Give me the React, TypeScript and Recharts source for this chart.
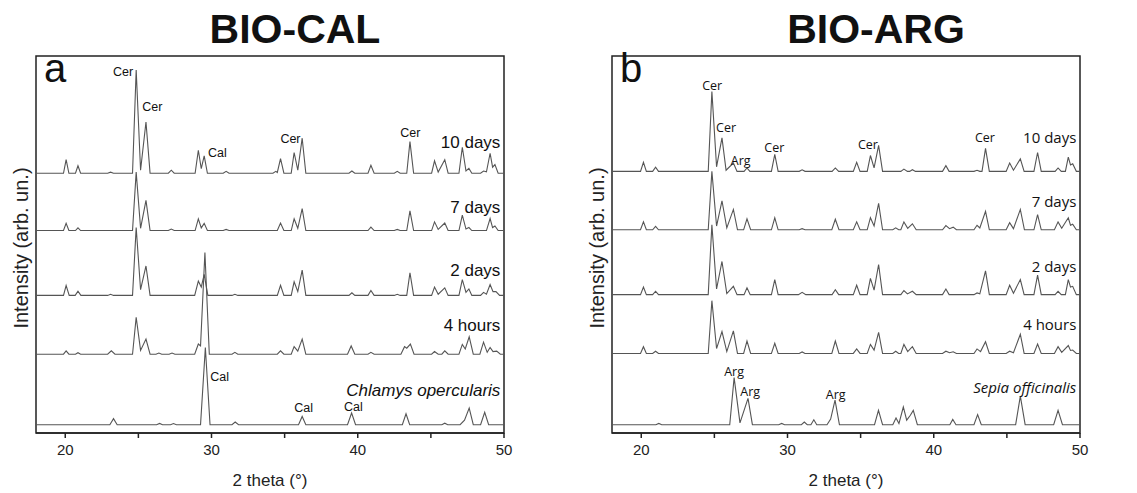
import React from 'react';
import { LineChart, Line, XAxis, YAxis, ReferenceArea, ReferenceDot } from 'recharts';

// 2 theta (deg) vs intensity. Intensity unit: 1/100 of the plot height.
// Each trace is a list of [2theta, intensity above its own baseline].
const calNames = ['10 days', '7 days', '2 days', '4 hours', 'Chlamys opercularis'];
const calOffsets = [68.9, 53.7, 36.5, 20.9, 2.2];

const cal10d = [
  [18, 0], [19.88, 0], [20.06, 3.6], [20.25, 0], [20.7, 0], [20.87, 2.0], [21.05, 0],
  [22.9, 0], [23.1, 0.3], [23.3, 0],
  [24.6, 0], [24.85, 27.4], [25.15, 0.8], [25.52, 13.6], [25.8, 0],
  [27.05, 0], [27.25, 0.8], [27.45, 0],
  [28.88, 0], [29.1, 6.1], [29.3, 1.2], [29.5, 4.6], [29.72, 0],
  [30.8, 0], [31.0, 0.5], [31.2, 0],
  [34.2, 0], [34.4, 0.5], [34.5, 0.2], [34.72, 3.9], [34.95, 0],
  [35.45, 0], [35.65, 5.5], [35.9, 0.8], [36.2, 9.3], [36.45, 0],
  [39.4, 0], [39.6, 0.6], [39.8, 0],
  [40.7, 0], [40.9, 2.1], [41.12, 0],
  [42.5, 0], [42.7, 0.5], [42.9, 0], [43.35, 0], [43.57, 8.4], [43.82, 0],
  [45.05, 0], [45.25, 3.3], [45.5, 0.3], [45.95, 3.6], [46.18, 0],
  [46.92, 0], [47.15, 6.9], [47.4, 0.6], [47.6, 1.3], [47.8, 0],
  [48.4, 0], [48.6, 0.6], [48.8, 0.4], [49.05, 5.3], [49.22, 1.6], [49.38, 2.3], [49.6, 0],
  [50, 0],
];
const cal7d = [
  [18, 0], [19.88, 0], [20.06, 1.9], [20.25, 0], [20.7, 0], [20.87, 0.7], [21.05, 0],
  [24.6, 0], [24.85, 15.5], [25.15, 0.6], [25.52, 8.0], [25.8, 0],
  [27.05, 0], [27.25, 0.4], [27.45, 0],
  [28.88, 0], [29.1, 3.1], [29.3, 0.7], [29.5, 1.9], [29.72, 0],
  [30.8, 0], [31.0, 0.3], [31.2, 0],
  [34.5, 0], [34.72, 2.0], [34.95, 0],
  [35.45, 0], [35.65, 3.1], [35.9, 0.6], [36.2, 5.8], [36.45, 0],
  [40.7, 0], [40.9, 0.9], [41.12, 0],
  [42.5, 0], [42.7, 0.3], [42.9, 0], [43.35, 0], [43.57, 5.2], [43.82, 0],
  [45.05, 0], [45.25, 2.3], [45.5, 0.3], [45.95, 2.0], [46.18, 0],
  [46.92, 0], [47.15, 4.1], [47.4, 0.4], [47.6, 0.8], [47.8, 0],
  [48.8, 0], [49.05, 3.2], [49.22, 0.8], [49.38, 1.2], [49.6, 0],
  [50, 0],
];
const cal2d = [
  [18, 0], [19.88, 0], [20.06, 2.6], [20.27, 0], [20.68, 0], [20.87, 1.1], [21.07, 0],
  [22.9, 0], [23.1, 0.3], [23.3, 0],
  [24.6, 0], [24.85, 18], [25.15, 1.5], [25.52, 7.8], [25.8, 0],
  [28.85, 0], [29.1, 3.8], [29.3, 2.2], [29.5, 5.6], [29.75, 0],
  [31.4, 0], [31.6, 0.3], [31.8, 0],
  [34.5, 0], [34.72, 2.7], [34.95, 0],
  [35.45, 0], [35.65, 3.6], [35.9, 1.0], [36.2, 6.7], [36.45, 0],
  [39.4, 0], [39.6, 0.7], [39.8, 0],
  [40.7, 0], [40.9, 1.3], [41.12, 0],
  [42.5, 0], [42.7, 0.3], [42.9, 0], [43.35, 0], [43.57, 6.0], [43.82, 0],
  [45.05, 0], [45.25, 2.2], [45.5, 0.3], [45.95, 2.0], [46.18, 0],
  [46.92, 0], [47.15, 4.2], [47.4, 0.8], [47.6, 1.7], [47.8, 0],
  [48.4, 0], [48.6, 0.8], [48.8, 0.3], [49.05, 2.9], [49.25, 1.0], [49.45, 1.0], [49.7, 0],
  [50, 0],
];
const cal4h = [
  [18, 0], [19.88, 0], [20.06, 0.9], [20.25, 0], [20.7, 0], [20.87, 0.4], [21.05, 0],
  [22.9, 0], [23.15, 0.9], [23.4, 0],
  [24.6, 0], [24.85, 9.8], [25.15, 1.0], [25.52, 4.0], [25.8, 0],
  [26.2, 0], [26.4, 0.3], [26.6, 0],
  [27.1, 0], [27.3, 0.3], [27.5, 0],
  [28.85, 0], [29.1, 2.7], [29.25, 2.2], [29.55, 27], [29.85, 0],
  [31.4, 0], [31.6, 0.5], [31.8, 0],
  [34.5, 0], [34.72, 0.9], [34.95, 0],
  [35.45, 0], [35.65, 2.0], [35.9, 0.8], [36.2, 4.0], [36.45, 0],
  [39.3, 0], [39.55, 2.2], [39.8, 0],
  [40.7, 0], [40.9, 0.5], [41.12, 0],
  [42.95, 0], [43.2, 2.0], [43.35, 1.6], [43.6, 2.7], [43.85, 0],
  [45.05, 0], [45.25, 0.7], [45.5, 0], [45.75, 0], [45.95, 0.9], [46.18, 0],
  [46.92, 0], [47.15, 2.6], [47.35, 1.4], [47.62, 4.6], [47.9, 0],
  [48.35, 0], [48.6, 3.2], [48.85, 0.5], [49.05, 1.8], [49.25, 0.7], [49.5, 0.8], [49.75, 0],
  [50, 0],
];
const chlamys = [
  [18, 0], [23.05, 0], [23.3, 1.6], [23.55, 0],
  [26.25, 0], [26.45, 0.35], [26.65, 0],
  [27.2, 0], [27.4, 0.3], [27.6, 0],
  [29.25, 0], [29.58, 20.5], [29.9, 0],
  [31.4, 0], [31.62, 0.7], [31.85, 0],
  [35.95, 0], [36.2, 2.2], [36.45, 0],
  [39.3, 0], [39.58, 3.1], [39.85, 0],
  [43.05, 0], [43.3, 2.9], [43.55, 0],
  [45.75, 0], [45.95, 0.4], [46.15, 0],
  [47.0, 0], [47.3, 1.2], [47.62, 4.4], [47.9, 0],
  [48.4, 0], [48.68, 3.3], [48.95, 0],
  [50, 0],
];

const argNames = ['10 days', '7 days', '2 days', '4 hours', 'Sepia officinalis'];
const argOffsets = [69.4, 53.9, 36.7, 21.1, 2.2];

const arg10d = [
  [18, 0], [19.95, 0], [20.15, 2.4], [20.35, 0], [20.78, 0], [20.98, 1.1], [21.18, 0],
  [24.58, 0], [24.83, 21.2], [25.15, 1.2], [25.52, 8.9], [25.8, 0.3], [26.3, 2.2], [26.55, 0],
  [27.03, 0], [27.23, 0.9], [27.43, 0],
  [28.9, 0], [29.13, 4.5], [29.36, 0],
  [30.8, 0], [31.0, 0.4], [31.2, 0],
  [33.05, 0], [33.27, 0.9], [33.5, 0],
  [34.5, 0], [34.73, 2.4], [34.96, 0],
  [35.45, 0], [35.67, 4.2], [35.92, 0.9], [36.23, 6.9], [36.5, 0],
  [37.75, 0], [37.96, 0.6], [38.2, 0], [38.35, 0], [38.54, 0.45], [38.75, 0],
  [40.6, 0], [40.83, 1.5], [41.05, 0],
  [42.75, 0], [42.96, 0.3], [43.15, 0], [43.3, 0], [43.54, 6.1], [43.8, 0],
  [44.95, 0], [45.19, 2.2], [45.45, 0.3], [45.92, 3.3], [46.18, 0],
  [46.85, 0], [47.1, 5.0], [47.35, 0],
  [48.3, 0], [48.5, 0.9], [48.72, 0],
  [49.0, 0], [49.2, 3.8], [49.35, 1.7], [49.5, 2.0], [49.75, 0],
  [50, 0],
];
const arg7d = [
  [18, 0], [19.95, 0], [20.15, 2.1], [20.35, 0], [20.78, 0], [20.98, 0.9], [21.18, 0],
  [24.58, 0], [24.83, 15.5], [25.15, 1.0], [25.52, 7.7], [25.85, 0.5], [26.3, 5.4], [26.58, 0],
  [27.0, 0], [27.23, 2.9], [27.48, 0],
  [28.9, 0], [29.13, 3.2], [29.36, 0],
  [30.8, 0], [31.0, 0.3], [31.2, 0],
  [33.03, 0], [33.27, 2.8], [33.52, 0],
  [34.5, 0], [34.73, 2.1], [34.96, 0],
  [35.45, 0], [35.67, 3.2], [35.92, 1.0], [36.23, 7.0], [36.5, 0],
  [37.2, 0], [37.4, 0.5], [37.6, 0], [37.75, 0], [37.96, 2.1], [38.22, 0.4], [38.54, 1.6], [38.8, 0],
  [40.6, 0], [40.83, 1.1], [41.08, 0.3], [41.33, 0.7], [41.55, 0],
  [42.75, 0], [42.96, 1.2], [43.15, 0.5], [43.54, 4.9], [43.8, 0],
  [44.95, 0], [45.19, 1.9], [45.45, 0.3], [45.92, 5.4], [46.2, 0],
  [46.85, 0], [47.1, 4.0], [47.35, 0],
  [48.25, 0], [48.5, 2.1], [48.75, 0.4], [49.2, 3.2], [49.35, 1.2], [49.5, 1.5], [49.75, 0],
  [50, 0],
];
const arg2d = [
  [18, 0], [19.95, 0], [20.15, 2.0], [20.35, 0], [20.78, 0], [20.98, 0.9], [21.18, 0],
  [24.58, 0], [24.83, 18.5], [25.15, 1.5], [25.52, 8.8], [25.85, 0.3], [26.3, 2.2], [26.55, 0],
  [27.03, 0], [27.23, 1.8], [27.45, 0],
  [28.9, 0], [29.13, 4.0], [29.36, 0],
  [30.75, 0], [31.0, 0.6], [31.25, 0],
  [33.05, 0], [33.27, 1.3], [33.5, 0],
  [34.5, 0], [34.73, 2.5], [34.96, 0],
  [35.45, 0], [35.67, 4.3], [35.92, 1.2], [36.23, 8.0], [36.5, 0],
  [37.75, 0], [37.96, 1.1], [38.2, 0.2], [38.54, 0.9], [38.8, 0],
  [40.6, 0], [40.83, 1.5], [41.05, 0],
  [42.75, 0], [42.96, 0.45], [43.15, 0.2], [43.54, 6.3], [43.8, 0],
  [44.95, 0], [45.19, 2.5], [45.45, 0.4], [45.92, 4.0], [46.18, 0],
  [46.85, 0], [47.1, 5.2], [47.35, 0],
  [48.3, 0], [48.5, 0.9], [48.72, 0],
  [49.0, 0], [49.2, 4.0], [49.35, 2.0], [49.5, 2.2], [49.75, 0],
  [50, 0],
];
const arg4h = [
  [18, 0], [19.95, 0], [20.15, 1.8], [20.35, 0], [20.78, 0], [20.98, 0.6], [21.18, 0],
  [24.58, 0], [24.83, 14.0], [25.15, 1.3], [25.52, 5.8], [25.85, 0.5], [26.3, 6.0], [26.58, 0],
  [27.0, 0], [27.23, 3.3], [27.48, 0],
  [28.9, 0], [29.13, 2.7], [29.36, 0],
  [30.8, 0], [31.0, 0.4], [31.2, 0],
  [33.03, 0], [33.27, 3.3], [33.52, 0],
  [34.5, 0], [34.73, 1.2], [34.96, 0],
  [35.45, 0], [35.67, 2.4], [35.92, 0.9], [36.23, 5.6], [36.5, 0],
  [37.2, 0], [37.4, 0.6], [37.6, 0], [37.75, 0], [37.96, 2.4], [38.22, 0.5], [38.54, 1.8], [38.8, 0],
  [40.6, 0], [40.83, 0.6], [41.08, 0.2], [41.33, 0.45], [41.55, 0],
  [42.75, 0], [42.96, 1.2], [43.2, 0.5], [43.54, 3.1], [43.8, 0],
  [44.95, 0], [45.19, 0.6], [45.45, 0.2], [45.92, 5.1], [46.18, 0],
  [46.85, 0], [47.1, 2.5], [47.35, 0],
  [48.25, 0], [48.5, 1.8], [48.75, 0.3], [49.2, 2.1], [49.35, 0.8], [49.5, 0.9], [49.75, 0],
  [50, 0],
];
const sepia = [
  [18, 0], [21.0, 0], [21.2, 0.35], [21.4, 0],
  [26.05, 0], [26.35, 12.5], [26.75, 0.5], [27.3, 7.0], [27.6, 0],
  [29.4, 0], [29.6, 0.35], [29.8, 0],
  [30.95, 0], [31.15, 0.7], [31.35, 0], [31.6, 0], [31.8, 1.3], [32.0, 0],
  [32.7, 0], [32.95, 1.5], [33.25, 6.5], [33.55, 0],
  [35.95, 0], [36.22, 3.8], [36.5, 0],
  [37.2, 0], [37.42, 1.8], [37.62, 0.3], [37.92, 4.7], [38.15, 1.2], [38.4, 2.5], [38.6, 3.8], [38.88, 0],
  [41.1, 0], [41.3, 1.4], [41.52, 0],
  [42.75, 0], [43.0, 2.7], [43.25, 0],
  [45.6, 0], [45.92, 7.6], [46.25, 0],
  [48.2, 0], [48.5, 3.8], [48.8, 0],
  [50, 0],
];

const xTicks = [20, 25, 30, 35, 40, 45, 50];

// phase labels [2theta, y, text]
const calPhaseLabels = [
  [23.95, 95.8, 'Cer'], [25.95, 86.5, 'Cer'], [30.4, 74.2, 'Cal'],
  [35.4, 78, 'Cer'], [43.6, 79.6, 'Cer'],
  [30.55, 14.9, 'Cal'], [36.3, 6.6, 'Cal'], [39.7, 7.0, 'Cal'],
];
const calNameY = [77.1, 59.7, 43.2, 28.6, 11.4];
const argPhaseLabels = [
  [24.85, 92.2, 'Cer'], [25.8, 81, 'Cer'], [26.8, 72.4, 'Arg'], [29.1, 75.7, 'Cer'],
  [35.5, 76.6, 'Cer'], [43.5, 78.4, 'Cer'],
  [26.35, 16.3, 'Arg'], [27.45, 11.1, 'Arg'], [33.3, 10.1, 'Arg'],
];
const argNameY = [78.6, 61.6, 44.4, 29.0, 12.3];

const AXIS = '#222';
const TRACE = '#555';

function TextAt({ viewBox, text, anchor, size, family, italic }: any) {
  return (
    <text x={viewBox.x} y={viewBox.y} textAnchor={anchor} dominantBaseline="central"
      fontSize={size} fontFamily={family} fontStyle={italic ? 'italic' : 'normal'} fill="#111">
      {text}
    </text>
  );
}

function Panel({ left, traces, offsets, names, nameY, phaseLabels, title, titleX, letter, labelFont, nameSize }: any) {
  return (
    <div style={{ position: 'absolute', left, top: 0, width: 560, height: 493 }}>
      <LineChart width={560} height={493} margin={{ top: 56, right: 56, bottom: 30, left: 36 }}>
        <XAxis dataKey="x" type="number" domain={[18, 50]} ticks={xTicks} allowDataOverflow
          tickFormatter={(v: number) => (v % 10 === 0 ? String(v) : '')}
          tick={{ fill: '#222', fontSize: 15, fontFamily: 'Liberation Sans, Arial' }}
          tickSize={5} tickMargin={6} height={30} stroke={AXIS} strokeWidth={1.5} />
        <YAxis type="number" domain={[0, 100]} hide />
        <ReferenceArea x1={18} x2={50} y1={0} y2={100} fill="none" stroke={AXIS} strokeWidth={1.5} />
        {traces.map((pts: number[][], i: number) => (
          <Line key={names[i]} data={pts.map(([x, h]) => ({ x, y: h + offsets[i] }))} dataKey="y"
            type="linear" dot={false} stroke={TRACE} strokeWidth={1.1} isAnimationActive={false} />
        ))}
        {phaseLabels.map(([x, y, t]: any, i: number) => (
          <ReferenceDot key={'p' + i} x={x} y={y} r={0} fill="none" stroke="none"
            label={{ content: (p: any) => <TextAt viewBox={p.viewBox} text={t} anchor="middle" size={12.5} family={labelFont} /> }} />
        ))}
        {names.map((n: string, i: number) => (
          <ReferenceDot key={'n' + i} x={49.75} y={nameY[i]} r={0} fill="none" stroke="none"
            label={{ content: (p: any) => <TextAt viewBox={p.viewBox} text={n} anchor="end" size={nameSize} family={labelFont} italic={i === 4} /> }} />
        ))}
      </LineChart>
      <div style={{ position: 'absolute', left: titleX - 150, width: 300, top: 6, textAlign: 'center',
        fontFamily: 'Liberation Sans, Arial', fontWeight: 'bold', fontSize: 41, color: '#111' }}>{title}</div>
      <div style={{ position: 'absolute', left: 44, top: 46, fontFamily: 'Liberation Sans, Arial',
        fontSize: 40, color: '#111' }}>{letter}</div>
      <div style={{ position: 'absolute', left: 36, width: 468, top: 471, textAlign: 'center',
        fontFamily: 'Liberation Sans, Arial', fontSize: 17, color: '#222' }}>2 theta (°)</div>
      <div style={{ position: 'absolute', left: 21, top: 248, transform: 'translate(-50%, -50%) rotate(-90deg)',
        whiteSpace: 'nowrap', fontFamily: 'Liberation Sans, Arial', fontSize: 20, color: '#222' }}>Intensity (arb. un.)</div>
    </div>
  );
}

export default function App() {
  return (
    <div style={{ position: 'absolute', left: 0, top: 0, width: 1137, height: 493, background: '#fff', overflow: 'hidden' }}>
      <Panel left={0} traces={[cal10d, cal7d, cal2d, cal4h, chlamys]} offsets={calOffsets}
        names={calNames} nameY={calNameY} phaseLabels={calPhaseLabels} title="BIO-CAL" titleX={295} letter="a"
        labelFont="Liberation Sans, Arial" nameSize={17} />
      <Panel left={576} traces={[arg10d, arg7d, arg2d, arg4h, sepia]} offsets={argOffsets}
        names={argNames} nameY={argNameY} phaseLabels={argPhaseLabels} title="BIO-ARG" titleX={300} letter="b"
        labelFont="Open Sans" nameSize={15} />
    </div>
  );
}
